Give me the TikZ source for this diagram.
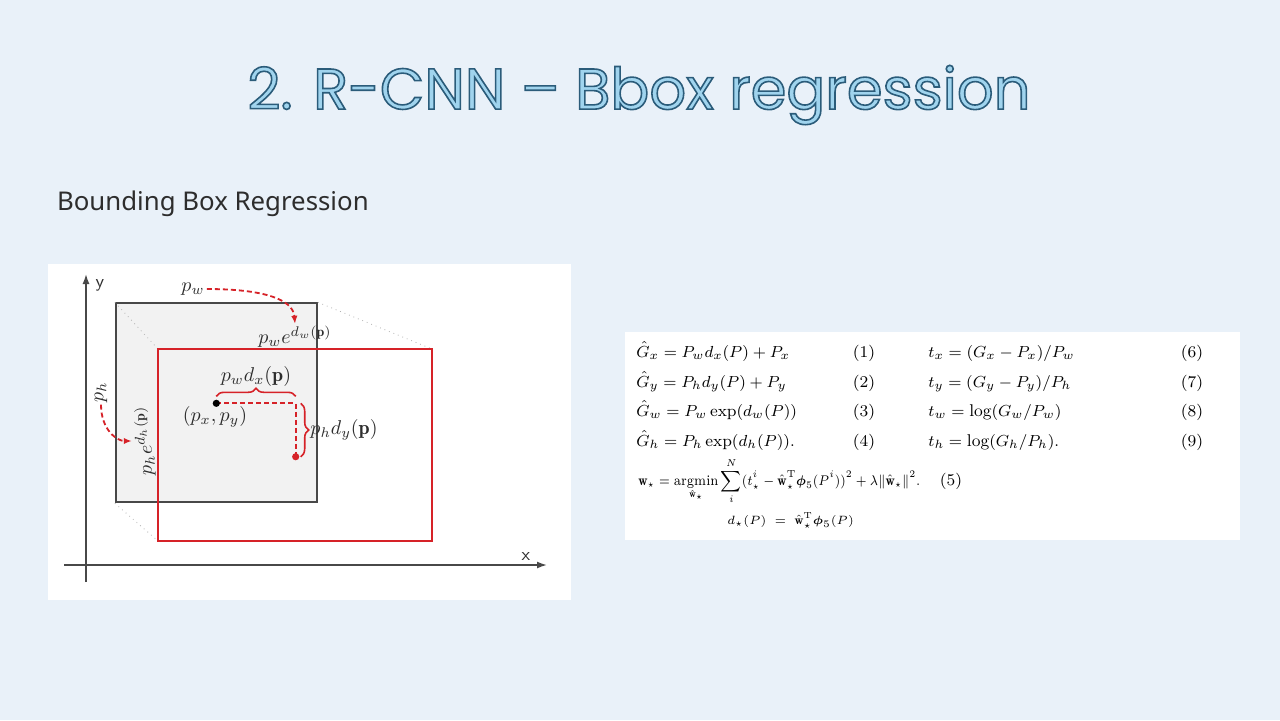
\documentclass[tikz,border=0pt]{standalone}
\usepackage{amsmath}
\usepackage{graphicx}
\usepackage{fontspec}
\newfontfamily\titlefont{Poppins}
\newfontfamily\subfont{Noto Sans}
\usetikzlibrary{arrows.meta,decorations.pathreplacing}
\definecolor{slidebg}{RGB}{233,241,249}
\definecolor{titlefill}{RGB}{160,212,238}
\definecolor{boxred}{RGB}{214,34,40}
\definecolor{boxgray}{RGB}{72,72,72}
\definecolor{boxfill}{RGB}{242,242,242}
\definecolor{textgray}{RGB}{45,45,45}

\begin{document}
\begin{tikzpicture}[x=0.5pt,y=-0.5pt,
    lbl/.style={inner sep=1pt,text=textgray},
    eq/.style={anchor=base west,inner sep=0pt,font=\fontsize{8.2}{10}\selectfont},
    eqno/.style={anchor=base,inner sep=0pt,font=\fontsize{8.2}{10}\selectfont},
    reddash/.style={draw=boxred,line width=0.9pt,dash pattern=on 2.5pt off 1.5pt},
    redarrow/.style={reddash,-{Latex[length=4pt,width=3.2pt]},fill=none},
    axis/.style={draw=boxgray,line width=0.8pt,-{Latex[length=5pt,width=3.5pt]}},
    dot/.style={circle,inner sep=0pt,minimum size=3.6pt}]
    \useasboundingbox (0,0) rectangle (1280,720);
    \fill[slidebg] (0,0) rectangle (1280,720);
    % title and subtitle
    \node[font=\titlefont\fontsize{28.8}{34}\selectfont,text=titlefill] (title) at (639,95)
        {\special{pdf:literal direct 2 Tr 0.8 w 0.17 0.36 0.48 RG}2. R-CNN – Bbox regression\special{pdf:literal direct 0 Tr}};
    \node[anchor=west,font=\subfont\fontsize{12.9}{15}\selectfont,text=textgray] (subtitle) at (50,204) {Bounding Box Regression};
    % panels
    \fill[white] (48,264) rectangle (571,600);
    \fill[white] (625,332) rectangle (1240,540);

    % axes
    \coordinate (yfrom) at (86,582);
    \coordinate (yto) at (86,274);
    \coordinate (xfrom) at (64,565);
    \coordinate (xto) at (547,565);
    \draw[axis] (yfrom) -- (yto);
    \draw[axis] (xfrom) -- (xto);
    \node[lbl,font=\sffamily\small] (ylab) at (100,285) {y};
    \node[lbl,font=\sffamily\small] (xlab) at (526,556) {x};

    % boxes
    \node[draw=boxgray,fill=boxfill,line width=1pt,minimum width=100.5pt,minimum height=99.5pt] (prior) at (216.4,402.8) {};
    \draw[gray!60,dotted,line width=0.4pt] (prior.north west) -- (158,349);
    \draw[gray!60,dotted,line width=0.4pt] (prior.north east) -- (432,349);
    \draw[gray!60,dotted,line width=0.4pt] (prior.south west) -- (158,541);
    \node[draw=boxred,line width=1pt,minimum width=137.2pt,minimum height=96.2pt] (target) at (295.2,445.2) {};

    % centres and shifts
    \coordinate (turn) at (295.7,403.3);
    \draw[reddash] (216.3,403.3) -- (turn) -- (295.7,456.7);
    \node[dot,fill=black] (pc) at (216.3,403.3) {};
    \node[dot,fill=boxred] (gc) at (295.7,456.7) {};
    \draw[boxred,line width=0.8pt,decorate,decoration={brace,amplitude=4pt}]
        ([yshift=3.5pt]pc.center) -- ([yshift=3.5pt]turn);
    \draw[boxred,line width=0.8pt,decorate,decoration={brace,amplitude=4pt}]
        ([xshift=2.5pt]turn) -- ([xshift=2.5pt]gc.center);

    % labels
    \node[lbl] (dxlab) at (256,376) {$p_wd_x(\mathbf{p})$};
    \node[lbl] (dylab) at (344,430) {$p_hd_y(\mathbf{p})$};
    \node[lbl] (pxy) at (215,417) {$(p_x,p_y)$};
    \node[lbl] (pw) at (193,289) {$p_w$};
    \node[lbl] (pwe) at (295,337) {$p_we^{d_w(\mathbf{p})}$};
    \node[lbl,rotate=90] (ph) at (101,392) {$p_h$};
    \node[lbl,rotate=90] (phe) at (145,441) {$p_he^{d_h(\mathbf{p})}$};
    \draw[redarrow] (pw.east) .. controls +(55,0) and +(-2,-25) .. (pwe.north);
    \draw[redarrow] (ph.west) .. controls +(0,25) and +(-15,0) .. (phe.north);

    % equations
    \node[eq] (eq1) at (636,357) {$\hat{G}_x = P_wd_x(P)+P_x$};
    \node[eq] (eq2) at (636,387) {$\hat{G}_y = P_hd_y(P)+P_y$};
    \node[eq] (eq3) at (636,416) {$\hat{G}_w = P_w\exp(d_w(P))$};
    \node[eq] (eq4) at (636,446) {$\hat{G}_h = P_h\exp(d_h(P)).$};
    \node[eqno] (no1) at (864,357) {(1)};
    \node[eqno] (no2) at (864,387) {(2)};
    \node[eqno] (no3) at (864,416) {(3)};
    \node[eqno] (no4) at (864,446) {(4)};
    \node[eq,font=\fontsize{8.5}{10}\selectfont] (eq6) at (928,357) {$t_x = (G_x-P_x)/P_w$};
    \node[eq,font=\fontsize{8.5}{10}\selectfont] (eq7) at (928,387) {$t_y = (G_y-P_y)/P_h$};
    \node[eq,font=\fontsize{8.5}{10}\selectfont] (eq8) at (928,416) {$t_w = \log(G_w/P_w)$};
    \node[eq,font=\fontsize{8.5}{10}\selectfont] (eq9) at (928,446) {$t_h = \log(G_h/P_h).$};
    \node[eqno] (no6) at (1192,357) {(6)};
    \node[eqno] (no7) at (1192,387) {(7)};
    \node[eqno] (no8) at (1192,416) {(8)};
    \node[eqno] (no9) at (1192,446) {(9)};
    \node[eq,font=\fontsize{7.3}{9}\selectfont] (eq5) at (638,485) {\scalebox{0.88}[1]{$\displaystyle \mathbf{w}_\star = \operatorname*{argmin}_{\hat{\mathbf{w}}_\star}\sum_i^N(t_\star^i-\hat{\mathbf{w}}_\star^{\mathrm{T}}\boldsymbol{\phi}_5(P^i))^2+\lambda\|\hat{\mathbf{w}}_\star\|^2.$}};
    \node[eqno] (no5) at (951,485) {(5)};
    \node[eq,font=\fontsize{6.2}{8}\selectfont] (eqd) at (727,524) {$d_\star(P)\;=\;\hat{\mathbf{w}}_\star^{\mathrm{T}}\boldsymbol{\phi}_5(P)$};
\end{tikzpicture}
\end{document}
